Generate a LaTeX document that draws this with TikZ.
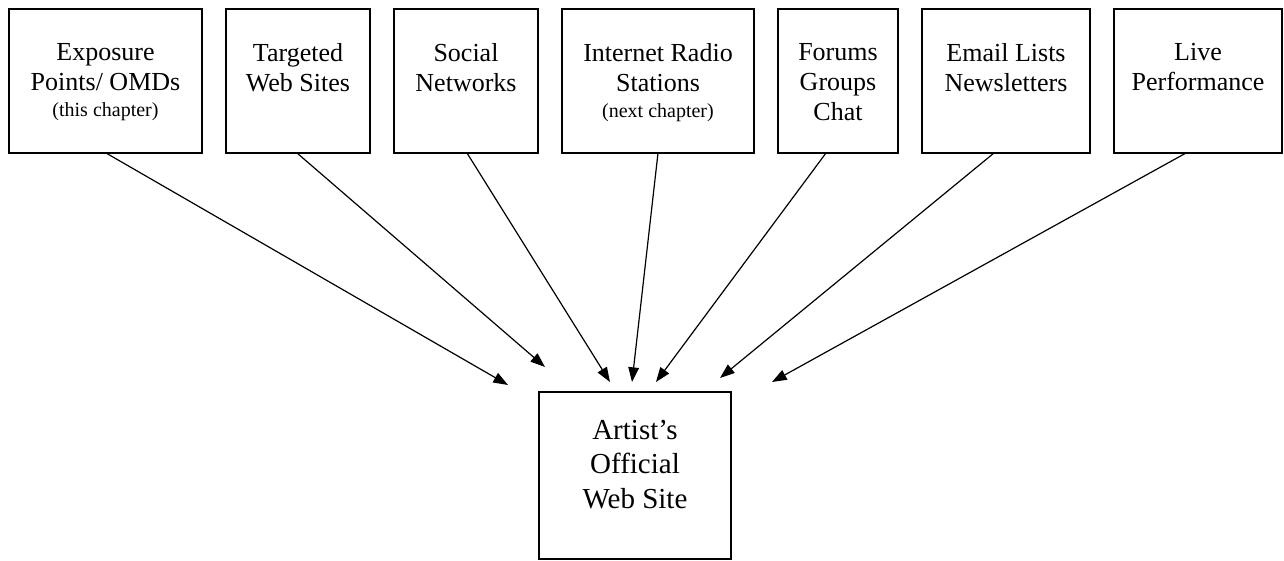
\documentclass[tikz,border=0pt]{standalone}
\usepackage{fontspec}
\setmainfont{Liberation Serif}
\usetikzlibrary{arrows.meta}
\begin{document}
\begin{tikzpicture}[x=0.75pt,y=-0.75pt,
  boxline/.style={line width=1.2pt},
  label/.style={anchor=north,align=center,font=\fontsize{19.5}{22.5}\selectfont},
  biglabel/.style={anchor=north,align=center,font=\fontsize{21.75}{26}\selectfont},
  feed/.style={line width=0.9pt,-{Triangle[length=11pt,width=8pt]}}]
\useasboundingbox (0,0) rectangle (1284,560);
% source boxes along the top (name, left x, width)
\foreach \n/\x/\w in {a/9/193,b/226/144,c/394/144,d/562/192,e/778/120,f/922/168,g/1114/168}{
  \draw[boxline] (\x,9) rectangle ++(\w,144);
  \coordinate (\n-top) at (\x+\w/2,9);
}
\node[label] (ta) at ([yshift=-22pt]a-top) {Exposure\\Points/ OMDs\\[-3pt]{\fontsize{15}{18}\selectfont(this chapter)}};
\node[label] (tb) at ([yshift=-22pt]b-top) {Targeted\\Web Sites};
\node[label] (tc) at ([yshift=-22pt]c-top) {Social\\Networks};
\node[label] (td) at ([yshift=-22pt]d-top) {Internet Radio\\Stations\\[-3pt]{\fontsize{15}{18}\selectfont(next chapter)}};
\node[label] (te) at ([yshift=-22pt]e-top) {Forums\\Groups\\Chat};
\node[label] (tf) at ([yshift=-22pt]f-top) {Email Lists\\Newsletters};
\node[label] (tg) at ([yshift=-22pt]g-top) {Live\\Performance};
% target box
\draw[boxline] (539,392) rectangle (731,559);
\node[biglabel] (site) at (635,415) {Artist’s\\Official\\Web Site};
% connector end points
\coordinate (sa) at (106,153); \coordinate (ea) at (508,385);
\coordinate (sb) at (297,153); \coordinate (eb) at (545,367);
\coordinate (sc) at (467,153); \coordinate (ec) at (610,382);
\coordinate (sd) at (658,153); \coordinate (ed) at (632,382);
\coordinate (se) at (826,153); \coordinate (ee) at (656,382);
\coordinate (sf) at (994,153); \coordinate (ef) at (720,378);
\coordinate (sg) at (1186,153); \coordinate (eg) at (772,382);
\foreach \n in {a,b,c,d,e,f,g}{\draw[feed] (s\n) -- (e\n);}
\end{tikzpicture}
\end{document}
